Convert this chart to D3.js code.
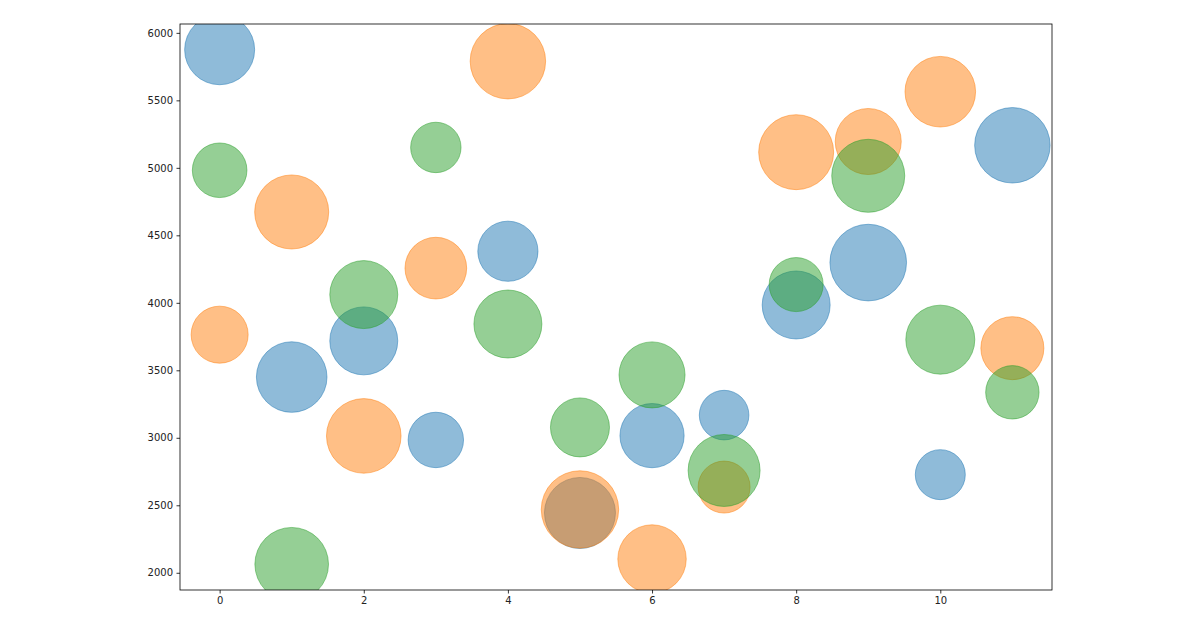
<!DOCTYPE html>
<html>
<head>
<meta charset="utf-8">
<script src="https://cdn.jsdelivr.net/npm/d3@7"></script>
<style>
  html, body { margin: 0; padding: 0; background: #fff; }
  svg { display: block; }
  text { font-family: "DejaVu Sans", sans-serif; }
</style>
</head>
<body>
<svg id="chart" width="1200" height="630"></svg>
<script>
// ---- data ----
const xValues = [0, 1, 2, 3, 4, 5, 6, 7, 8, 9, 10, 11];

const blueY    = [5875, 3450, 3718, 2984, 4382, 2443, 3016, 3168, 3984, 4298, 2727, 5167];
const blueSize = [4900, 4980, 4620, 3070, 3620, 5040, 4120, 2460, 4620, 5870, 2500, 5690];

const orangeY    = [3764, 4673, 3014, 4257, 5790, 2469, 2102, 2635, 5116, 5195, 5564, 3664];
const orangeSize = [3250, 5480, 5560, 3800, 5690, 5990, 4680, 2700, 5620, 4360, 4980, 3970];

const greenY    = [4982, 2063, 4061, 5151, 3843, 3077, 3466, 2758, 4135, 4941, 3727, 3337];
const greenSize = [2980, 5420, 4620, 2540, 4620, 3480, 4360, 5180, 2920, 5330, 4760, 2850];

const seriesColors = ["#1f77b4", "#ff7f0e", "#2ca02c"];
const xTicks = [0, 2, 4, 6, 8, 10];
const yTicks = [2000, 2500, 3000, 3500, 4000, 4500, 5000, 5500, 6000];

// ---- layout ----
const svg = d3.select("#chart");
const mLeft = 180, mRight = 1052, mTop = 24, mBottom = 590;

const series = [
  { y: blueY, s: blueSize, color: seriesColors[0] },
  { y: orangeY, s: orangeSize, color: seriesColors[1] },
  { y: greenY, s: greenSize, color: seriesColors[2] }
];

// matplotlib-like 5% margins
const xExt = d3.extent(xValues);
const xPad = (xExt[1] - xExt[0]) * 0.05;
const allY = series.flatMap(d => d.y);
const yExt = d3.extent(allY);
const yPad = (yExt[1] - yExt[0]) * 0.05;

const x = d3.scaleLinear().domain([xExt[0] - xPad, xExt[1] + xPad]).range([mLeft, mRight]);
const y = d3.scaleLinear().domain([yExt[0] - yPad, yExt[1] + yPad]).range([mBottom, mTop]);
// size is area like matplotlib's s at 72 dpi: radius = sqrt(s)/2
const r = d3.scaleSqrt().domain([0, 10000]).range([0, 50]);

svg.append("defs").append("clipPath").attr("id", "clip")
  .append("rect").attr("x", mLeft).attr("y", mTop)
  .attr("width", mRight - mLeft).attr("height", mBottom - mTop);

const plot = svg.append("g").attr("clip-path", "url(#clip)");

series.forEach(sr => {
  plot.append("g").selectAll("circle")
    .data(xValues.map((xv, i) => ({ x: xv, y: sr.y[i], s: sr.s[i] })))
    .join("circle")
    .attr("cx", d => x(d.x))
    .attr("cy", d => y(d.y))
    .attr("r", d => r(d.s))
    .attr("fill", sr.color)
    .attr("fill-opacity", 0.5)
    .attr("stroke", sr.color)
    .attr("stroke-opacity", 0.5)
    .attr("stroke-width", 1);
});

// axes
const xAxis = d3.axisBottom(x).tickValues(xTicks).tickSize(3.5).tickPadding(3.5).tickFormat(d3.format("d"));
const yAxis = d3.axisLeft(y).tickValues(yTicks).tickSize(3.5).tickPadding(3.5).tickFormat(d3.format("d"));

const gx = svg.append("g").attr("transform", `translate(0,${mBottom})`).call(xAxis);
const gy = svg.append("g").attr("transform", `translate(${mLeft},0)`).call(yAxis);
[gx, gy].forEach(g => {
  g.select(".domain").remove();
  g.selectAll(".tick line").attr("stroke", "#000").attr("stroke-width", 0.8);
  g.selectAll(".tick text").attr("fill", "#222").attr("font-size", "10px")
    .attr("font-family", "DejaVu Sans, sans-serif");
});

// spines
svg.append("rect")
  .attr("x", mLeft).attr("y", mTop)
  .attr("width", mRight - mLeft).attr("height", mBottom - mTop)
  .attr("fill", "none").attr("stroke", "#000").attr("stroke-width", 0.8);
</script>
</body>
</html>
